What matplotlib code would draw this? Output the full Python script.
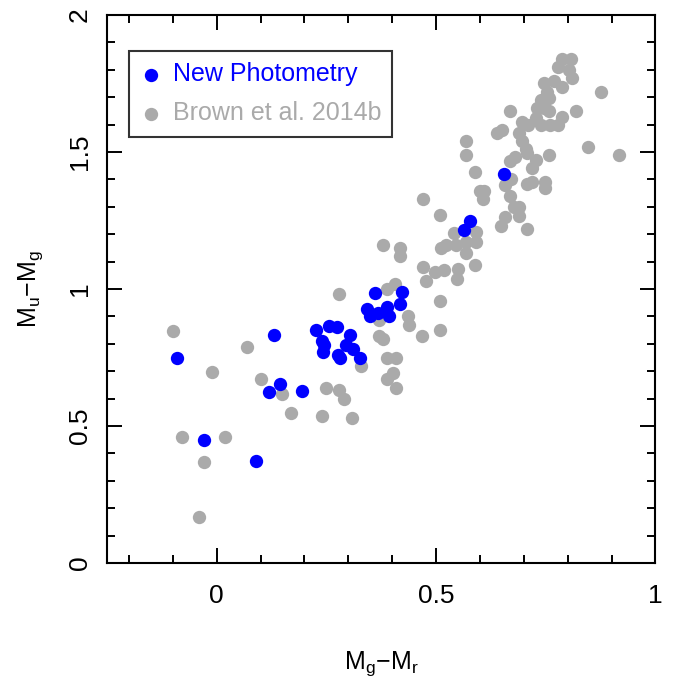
import matplotlib
matplotlib.use('Agg')
import matplotlib.pyplot as plt
from matplotlib.ticker import MultipleLocator

plt.rcParams['font.family'] = ['Liberation Sans', 'DejaVu Sans']

# New Photometry (blue)
new_x = [-0.09, -0.03, 0.09, 0.13, 0.12, 0.145, 0.194, 0.227, 0.24, 0.256,
         0.274, 0.242, 0.244, 0.276, 0.282, 0.305, 0.295, 0.31, 0.327, 0.36,
         0.343, 0.35, 0.368, 0.388, 0.392, 0.423, 0.417, 0.563, 0.578, 0.655]
new_y = [0.75, 0.45, 0.374, 0.832, 0.624, 0.653, 0.629, 0.849, 0.812, 0.865,
         0.862, 0.771, 0.796, 0.759, 0.75, 0.832, 0.796, 0.782, 0.747, 0.984,
         0.927, 0.90, 0.911, 0.934, 0.903, 0.988, 0.945, 1.215, 1.249, 1.419]

# Brown et al. 2014b (gray)
brown_x = [-0.099, 0.07, -0.01, 0.10, 0.15, 0.17, -0.079, 0.02, -0.029, -0.04,
           0.25, 0.279, 0.29, 0.239, 0.309, 0.33, 0.279, 0.369, 0.38, 0.388,
           0.409, 0.401, 0.388, 0.409, 0.388, 0.407, 0.371, 0.437, 0.439, 0.468,
           0.508, 0.508, 0.478, 0.547, 0.379, 0.418, 0.418, 0.47, 0.508, 0.47,
           0.498, 0.519, 0.549, 0.588, 0.511, 0.523, 0.542, 0.546, 0.568, 0.59,
           0.568, 0.591, 0.60, 0.61, 0.608, 0.668, 0.678, 0.688, 0.688, 0.658,
           0.648, 0.708, 0.708, 0.719, 0.748, 0.748, 0.67, 0.658, 0.589, 0.668,
           0.68, 0.727, 0.718, 0.758, 0.847, 0.917, 0.568, 0.568, 0.639, 0.65,
           0.688, 0.696, 0.705, 0.708, 0.697, 0.709, 0.739, 0.759, 0.779, 0.727,
           0.787, 0.668, 0.818, 0.729, 0.746, 0.758, 0.739, 0.758, 0.754, 0.877,
           0.747, 0.769, 0.788, 0.81, 0.804, 0.778, 0.787, 0.808]
brown_y = [0.848, 0.789, 0.698, 0.67, 0.618, 0.549, 0.459, 0.459, 0.369, 0.169,
           0.638, 0.63, 0.60, 0.538, 0.529, 0.718, 0.98, 0.828, 0.818, 0.747,
           0.747, 0.692, 0.67, 0.639, 1.0, 1.02, 0.887, 0.901, 0.869, 0.828,
           0.85, 0.958, 1.029, 1.038, 1.159, 1.151, 1.119, 1.328, 1.27, 1.08,
           1.062, 1.069, 1.073, 1.089, 1.151, 1.161, 1.203, 1.159, 1.172, 1.172,
           1.133, 1.208, 1.359, 1.359, 1.327, 1.341, 1.301, 1.301, 1.265, 1.263,
           1.23, 1.218, 1.383, 1.389, 1.392, 1.369, 1.40, 1.38, 1.428, 1.469,
           1.48, 1.471, 1.441, 1.489, 1.519, 1.489, 1.54, 1.489, 1.569, 1.58,
           1.57, 1.542, 1.511, 1.495, 1.611, 1.597, 1.599, 1.597, 1.599, 1.623,
           1.629, 1.65, 1.65, 1.659, 1.659, 1.649, 1.69, 1.696, 1.72, 1.719,
           1.751, 1.759, 1.738, 1.769, 1.799, 1.811, 1.841, 1.841]

fig = plt.figure(figsize=(6.75, 6.83), dpi=100)
ax = fig.add_axes([0.1585, 0.1757, 0.8125, 0.8023])

ax.scatter(brown_x, brown_y, s=92, color='#aaaaaa', linewidths=0,
           label='Brown et al. 2014b', zorder=2)
ax.scatter(new_x, new_y, s=92, color='#0000ff', linewidths=0,
           label='New Photometry', zorder=3)

ax.set_xlim(-0.25, 1.0)
ax.set_ylim(0, 2)

ax.xaxis.set_major_locator(MultipleLocator(0.5))
ax.xaxis.set_minor_locator(MultipleLocator(0.1))
ax.yaxis.set_major_locator(MultipleLocator(0.5))
ax.yaxis.set_minor_locator(MultipleLocator(0.1))
ax.xaxis.set_major_formatter(plt.FuncFormatter(lambda v, p: f'{v:g}'))
ax.yaxis.set_major_formatter(plt.FuncFormatter(lambda v, p: f'{v:g}'))

ax.tick_params(which='both', direction='in', top=True, right=True, width=1.4,
               labelsize=19)
ax.tick_params(axis='x', pad=15)
ax.tick_params(axis='y', pad=11)
ax.tick_params(which='major', length=11)
ax.tick_params(which='minor', length=6)
for lab in ax.get_yticklabels():
    lab.set_rotation(90)
    lab.set_va('center')
for sp in ax.spines.values():
    sp.set_linewidth(1.5)

ax.set_xlabel('M$_\\mathregular{g}$\u2212M$_\\mathregular{r}$', fontsize=18, labelpad=30)
ax.set_ylabel('M$_\\mathregular{u}$\u2212M$_\\mathregular{g}$', fontsize=18, labelpad=16)

handles, labels = ax.get_legend_handles_labels()
leg = ax.legend(handles[::-1], labels[::-1], loc='upper left',
                bbox_to_anchor=(0.04, 0.934), borderaxespad=0, fontsize=18,
                labelcolor='markerfacecolor', frameon=True, fancybox=False,
                handletextpad=0.4, handlelength=0.9, labelspacing=0.6,
                borderpad=0.45, markerscale=1.0)
leg.get_frame().set_edgecolor('black')
leg.get_frame().set_linewidth(1.5)

fig.savefig('out.png', dpi=100)
